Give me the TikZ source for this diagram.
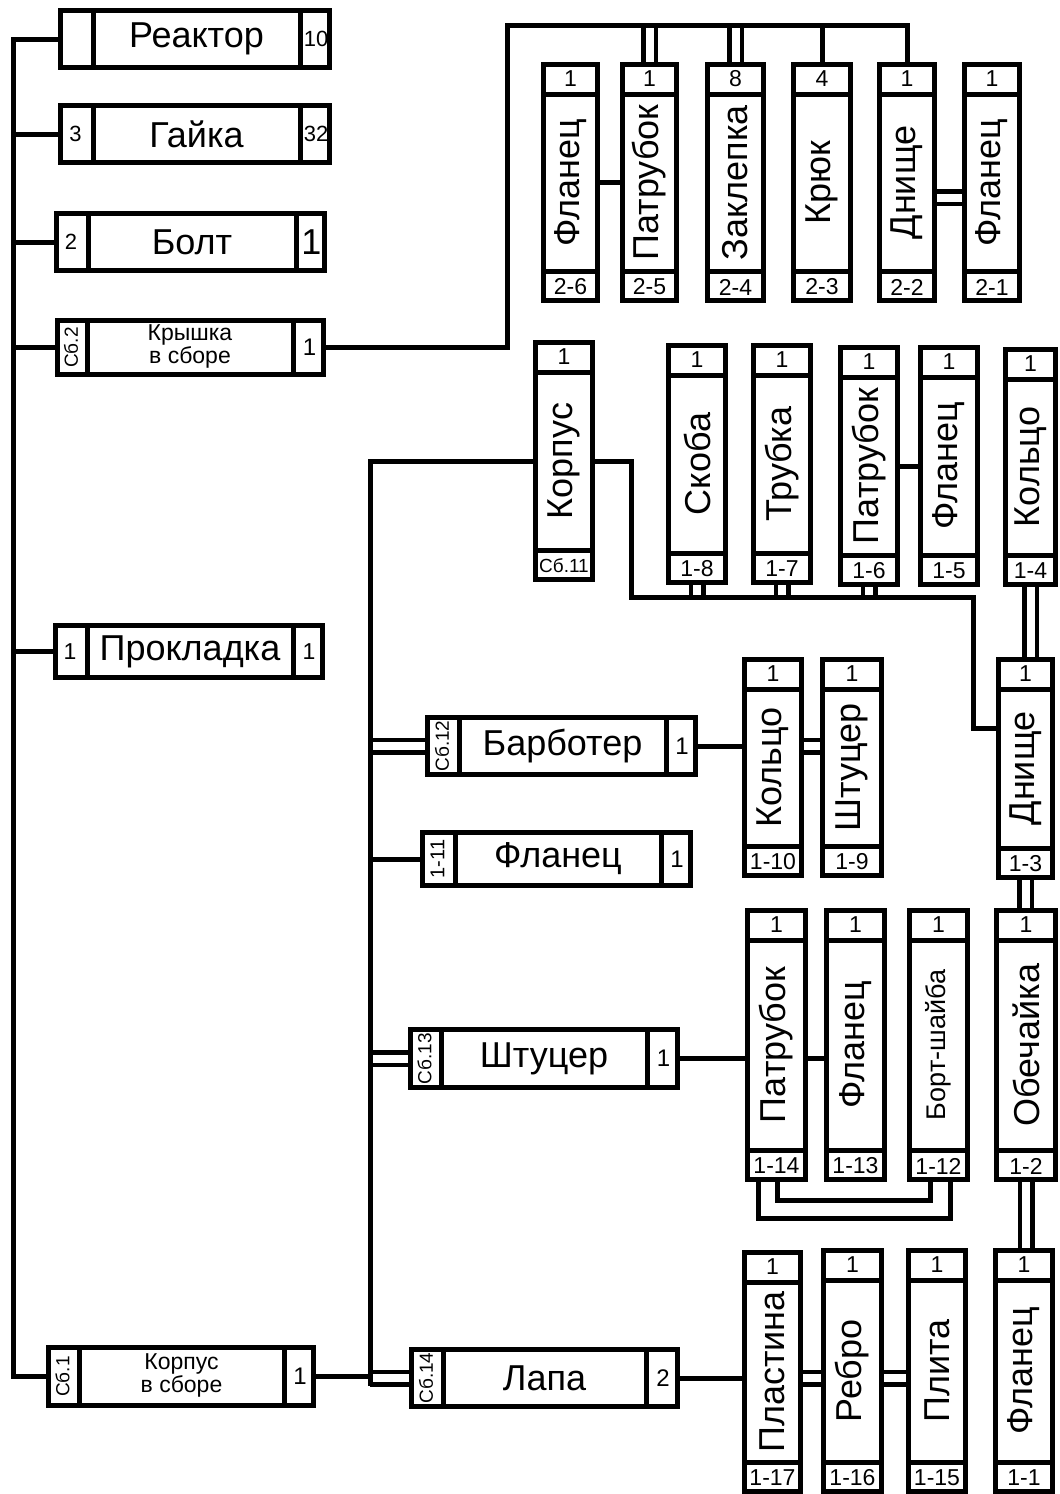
\documentclass[tikz,border=0pt]{standalone}
\usepackage{fontspec}
\setmainfont{Liberation Sans}
\usepackage{graphicx}
\usetikzlibrary{calc,backgrounds}
\newcommand\fsz[1]{\fontsize{#1}{#1}\selectfont}
\newcommand\twoline[2]{\fontsize{23}{23}\selectfont\begin{tabular}{@{}c@{}}#1\\[-1pt]#2\end{tabular}}
\tikzset{
  box/.style={draw, line width=5pt, fill=white, inner sep=0pt, outer sep=0pt},
  div/.style={line width=5pt},
  conn/.style={line width=5pt},
  dbl/.style={double, double distance=8pt, line width=4.5pt},
  txt/.style={inner sep=0pt, outer sep=0pt, align=center},
}
% horizontal box: name,x1,y1,x2,y2,left divider,right divider,main text
\newcommand\HB[8]{%
  \node[box, minimum width={#4-#2-5}, minimum height={#5-#3-5}] (#1) at ({(#2+#4)/2},{(#3+#5)/2}) {};
  \draw[div] (#6,#3+2.5) -- (#6,#5-2.5);
  \draw[div] (#7,#3+2.5) -- (#7,#5-2.5);
  \node[txt,font=\fsz{36}] (#1-m) at ({(#6+#7)/2},{(#3+#5)/2}) {#8};
  \coordinate (#1-l) at ({(#2+#6)/2},{(#3+#5)/2});
  \coordinate (#1-r) at ({(#7+#4)/2},{(#3+#5)/2});
}
% vertical box: name,x1,y1,x2,y2,top,main,bottom
\newcommand\VB[8]{%
  \node[box, minimum width={#4-#2-5}, minimum height={#5-#3-5}] (#1) at ({(#2+#4)/2},{(#3+#5)/2}) {};
  \draw[div] (#2+2.5,#3+32) -- (#4-2.5,#3+32);
  \draw[div] (#2+2.5,#5-32) -- (#4-2.5,#5-32);
  \node[txt,font=\fsz{23}] (#1-t) at ({(#2+#4)/2},#3+17) {#6};
  \node[txt,rotate=90,font=\fsz{36}] (#1-m) at ({(#2+#4)/2},{(#3+#5)/2}) {#7};
  \node[txt,font=\fsz{23}] (#1-b) at ({(#2+#4)/2},#5-16) {#8};
}
\begin{document}
\begin{tikzpicture}[x=1pt,y=-1pt]
\useasboundingbox (0,0) rectangle (1060,1494);

% ---- left column ----
\HB{reactor}{58}{8}{332}{70}{93}{300}{Реактор}
\node[txt,font=\fsz{22}] (reactor-n) at (reactor-r) {10};
\HB{gayka}{58}{103}{332}{165}{93}{300}{Гайка}
\node[txt,font=\fsz{22}] (gayka-p) at (gayka-l) {3};
\node[txt,font=\fsz{22}] (gayka-n) at (gayka-r) {32};
\HB{bolt}{54}{211}{327}{273}{88}{296}{Болт}
\node[txt,font=\fsz{22}] (bolt-p) at (bolt-l) {2};
\node[txt,font=\fsz{36}] (bolt-n) at (bolt-r) {1};
\HB{krysh}{55}{318}{326}{377}{87}{293}{\twoline{Крышка}{в сборе}}
\node[txt,rotate=90,font=\fsz{19}] (krysh-p) at (krysh-l) {Сб.2};
\node[txt,font=\fsz{24}] (krysh-n) at (krysh-r) {1};
\HB{prokl}{53}{623}{325}{680}{87}{293}{Прокладка}
\node[txt,font=\fsz{23}] (prokl-p) at (prokl-l) {1};
\node[txt,font=\fsz{23}] (prokl-n) at (prokl-r) {1};
\HB{korpsb}{46}{1345}{316}{1408}{79}{284}{\twoline{Корпус}{в сборе}}
\node[txt,rotate=90,font=\fsz{19}] (korpsb-p) at (korpsb-l) {Сб.1};
\node[txt,font=\fsz{24}] (korpsb-n) at (korpsb-r) {1};

% ---- middle horizontal boxes ----
\HB{barb}{425}{715}{698}{777}{459}{666}{Барботер}
\node[txt,rotate=90,font=\fsz{19}] (barb-p) at (barb-l) {Сб.12};
\node[txt,font=\fsz{24}] (barb-n) at (barb-r) {1};
\HB{fl111}{420}{830}{693}{888}{455}{661}{Фланец}
\node[txt,rotate=90,font=\fsz{20}] (fl111-p) at (fl111-l) {1-11};
\node[txt,font=\fsz{24}] (fl111-n) at (fl111-r) {1};
\HB{shtu}{408}{1027}{680}{1090}{441}{647}{Штуцер}
\node[txt,rotate=90,font=\fsz{19}] (shtu-p) at (shtu-l) {Сб.13};
\node[txt,font=\fsz{24}] (shtu-n) at (shtu-r) {1};
\HB{lapa}{409}{1347}{680}{1409}{443}{646}{Лапа}
\node[txt,rotate=90,font=\fsz{19}] (lapa-p) at (lapa-l) {Сб.14};
\node[txt,font=\fsz{24}] (lapa-n) at (lapa-r) {2};

% ---- top group ----
\VB{d26}{541}{62}{600}{303}{1}{Фланец}{2-6}
\VB{d25}{620}{62}{679}{303}{1}{Патрубок}{2-5}
\VB{d24}{705}{62}{766}{303}{8}{Заклепка}{2-4}
\VB{d23}{791}{62}{853}{303}{4}{Крюк}{2-3}
\VB{d22}{877}{62}{937}{303}{1}{Днище}{2-2}
\VB{d21}{962}{62}{1022}{303}{1}{Фланец}{2-1}

% ---- middle group ----
\VB{korp}{533}{340}{595}{582}{1}{Корпус}{\fsz{19}Сб.11}
\VB{d18}{666}{343}{728}{585}{1}{Скоба}{1-8}
\VB{d17}{751}{343}{813}{585}{1}{Трубка}{1-7}
\VB{d16}{838}{345}{900}{587}{1}{Патрубок}{1-6}
\VB{d15}{918}{345}{980}{587}{1}{Фланец}{1-5}
\VB{d14}{1003}{347}{1058}{587}{1}{Кольцо}{1-4}

\VB{d110}{742}{657}{804}{878}{1}{Кольцо}{1-10}
\VB{d19}{820}{657}{884}{878}{1}{Штуцер}{1-9}
\VB{d13}{996}{657}{1055}{880}{1}{Днище}{1-3}

\VB{d114}{745}{908}{808}{1182}{1}{Патрубок}{1-14}
\VB{d113}{824}{908}{887}{1182}{1}{Фланец}{1-13}
\VB{d112}{907}{908}{970}{1182}{1}{\fsz{27}Борт-шайба}{1-12}
\VB{d12}{994}{908}{1058}{1182}{1}{Обечайка}{1-2}

\VB{d117}{742}{1250}{803}{1494}{1}{Пластина}{1-17}
\VB{d116}{821}{1248}{884}{1494}{1}{Ребро}{1-16}
\VB{d115}{906}{1248}{968}{1494}{1}{Плита}{1-15}
\VB{d11}{993}{1248}{1055}{1494}{1}{Фланец}{1-1}

% ---- connectors ----
\coordinate (sp1) at (13,0);
\coordinate (sp2) at (370,1386);
\coordinate (tb) at (507,25);
\coordinate (b1) at (631,597);
\coordinate (b2) at (973,728);
\coordinate (u1) at (758,1218);
\coordinate (u2) at (950,1218);
\coordinate (u3) at (777,1200);
\coordinate (u4) at (930,1200);

\begin{scope}[on background layer]
  % double connectors first
  \draw[dbl] (d25.north) -- (d25.north |- tb);
  \draw[dbl] (d24.north) -- (d24.north |- tb);
  \draw[dbl] ($(d22.east)+(0,15)$) -- ($(d21.west)+(0,15)$);
  \draw[dbl] (d18.south) -- (d18.south |- b1);
  \draw[dbl] (d17.south) -- (d17.south |- b1);
  \draw[dbl] (d16.south) -- (d16.south |- b1);
  \draw[dbl] (d14.south) -- (d14.south |- d13.north);
  \draw[dbl] (d13.south) -- (d13.south |- d12.north);
  \draw[dbl] (d12.south) -- (d12.south |- d11.north);
  \draw[dbl] (barb.west) -- (barb.west -| sp2);
  \draw[dbl] (d110.east |- barb.east) -- (d19.west |- barb.east);
  \draw[dbl] (shtu.west) -- (shtu.west -| sp2);
  \draw[dbl] (lapa.west) -- (lapa.west -| sp2);
  \draw[dbl] (d117.east |- lapa.east) -- (d116.west |- lapa.east);
  \draw[dbl] (d116.east |- lapa.east) -- (d115.west |- lapa.east);
  % single connectors
  \draw[conn] (reactor.west) -- (reactor.west -| sp1) -- (korpsb.west -| sp1) -- (korpsb.west);
  \draw[conn] (gayka.west) -- (gayka.west -| sp1);
  \draw[conn] (bolt.west) -- (bolt.west -| sp1);
  \draw[conn] (krysh.west) -- (krysh.west -| sp1);
  \draw[conn] (prokl.west) -- (prokl.west -| sp1);
  \draw[conn] (krysh.east) -| (tb) -| (d22.north);
  \draw[conn] (d23.north) -- (d23.north |- tb);
  \draw[conn] (d26.east) -- (d25.west);
  \draw[conn] (korp.west) -| (sp2);
  \draw[conn] (korpsb.east) -- (korpsb.east -| sp2);
  \draw[conn] (korp.east) -| (b1) -| (b2) -- (b2 -| d13.west);
  \draw[conn] (d16.east) -- (d16.east -| d15.west);
  \draw[conn] (barb.east) -- (barb.east -| d110.west);
  \draw[conn] (fl111.west) -- (fl111.west -| sp2);
  \draw[conn] (shtu.east) -- (shtu.east -| d114.west);
  \draw[conn] (d114.east |- shtu.east) -- (d113.west |- shtu.east);
  \draw[conn] (d114.south -| u1) |- (u2) -- (u2 |- d112.south);
  \draw[conn] (d114.south -| u3) |- (u4) -- (u4 |- d112.south);
  \draw[conn] (lapa.east) -- (lapa.east -| d117.west);
\end{scope}
\end{tikzpicture}
\end{document}
